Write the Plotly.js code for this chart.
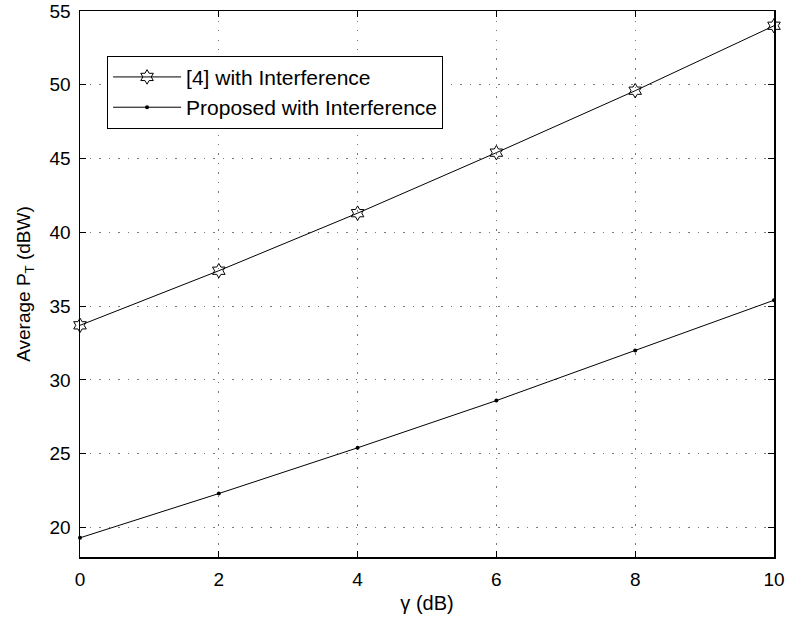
<!DOCTYPE html>
<html>
<head>
<meta charset="utf-8">
<script src="https://cdn.plot.ly/plotly-3.0.1.min.js"></script>
<style>html,body{margin:0;padding:0;background:#fff;}#chart{width:789px;height:617px;}</style>
</head>
<body>
<div id="chart"></div>
<script>
const gammaDB = [0, 2, 4, 6, 8, 10];
const ref4Interference = [33.7, 37.4, 41.3, 45.4, 49.6, 54.0];
const proposedInterference = [19.3, 22.3, 25.4, 28.6, 32.0, 35.4];
const seriesNames = ['[4] with Interference', 'Proposed with Interference'];
const xTicks = [0, 2, 4, 6, 8, 10];
const yTicks = [20, 25, 30, 35, 40, 45, 50, 55];

const FONT = 'Liberation Sans, Arial, Helvetica, sans-serif';

const traces = [
  {
    x: gammaDB, y: ref4Interference, name: seriesNames[0],
    mode: 'lines+markers', type: 'scatter', cliponaxis: false,
    line: {color: '#000', width: 1},
    marker: {symbol: 'hexagram-open', size: 11, color: '#000', line: {color: '#000', width: 1}}
  },
  {
    x: gammaDB, y: proposedInterference, name: seriesNames[1],
    mode: 'lines+markers', type: 'scatter', cliponaxis: false,
    line: {color: '#000', width: 1},
    marker: {symbol: 'circle', size: 4, color: '#000'}
  }
];

const axisCommon = {
  showline: true, linecolor: '#000', linewidth: 1.5, mirror: 'ticks',
  ticks: 'inside', ticklen: 6, tickcolor: '#000', tickwidth: 1,
  showgrid: true, gridcolor: '#777', griddash: '1.5px,8px', gridwidth: 1,
  zeroline: false, ticklabeloverflow: 'allow',
  tickfont: {family: FONT, size: 19, color: '#000'}
};

const layout = {
  width: 789, height: 617,
  margin: {l: 80, r: 15, t: 11, b: 60},
  paper_bgcolor: '#fff', plot_bgcolor: '#fff',
  showlegend: true,
  xaxis: Object.assign({}, axisCommon, {
    range: [0, 10], tickvals: xTicks, ticklabelstandoff: 5,
    title: {text: 'γ (dB)', standoff: 6, font: {family: FONT, size: 20, color: '#000'}}
  }),
  yaxis: Object.assign({}, axisCommon, {
    range: [18, 55], tickvals: yTicks, ticklabelstandoff: 4,
    title: {text: 'Average P<sub>T</sub> (dBW)', standoff: 14, font: {family: FONT, size: 19, color: '#000'}}
  }),
  legend: {
    x: 0.039, y: 0.918, xanchor: 'left', yanchor: 'top',
    bgcolor: '#fff', bordercolor: '#000', borderwidth: 1,
    font: {family: FONT, size: 21, color: '#000'},
    itemwidth: 68, tracegroupgap: 0
  }
};

Plotly.newPlot('chart', traces, layout, {displayModeBar: false, staticPlot: true});
</script>
</body>
</html>
